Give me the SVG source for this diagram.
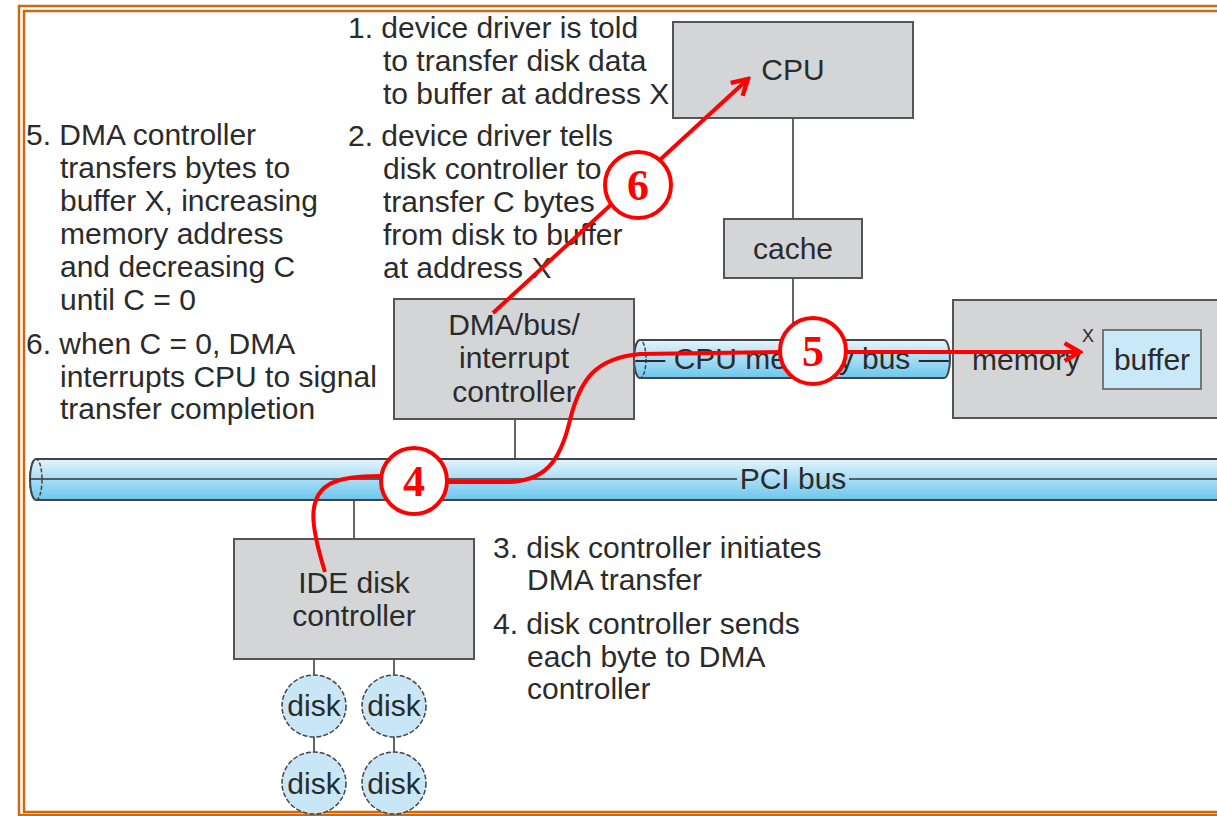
<svg xmlns="http://www.w3.org/2000/svg" width="1217" height="816" viewBox="0 0 1217 816">
<defs>
<linearGradient id="busg" x1="0" y1="0" x2="0" y2="1">
<stop offset="0" stop-color="#e4f4fc"/>
<stop offset="1" stop-color="#6cc6ee"/>
</linearGradient>
<marker id="arr" viewBox="0 0 20 20" refX="17" refY="10" markerWidth="22" markerHeight="22" markerUnits="userSpaceOnUse" orient="auto">
<path d="M3,2 L17,10 L3,18" fill="none" stroke="#ff0000" stroke-width="4" stroke-linejoin="miter"/>
</marker>
</defs>
<style>
.t{font-family:"Liberation Sans",Arial,sans-serif;font-size:30px;fill:#2b2b2b}
.c{text-anchor:middle}
.box{fill:#d4d5d7;stroke:#555;stroke-width:2}
.bus{fill:url(#busg);stroke:#444;stroke-width:2}
.ln{stroke:#333;stroke-width:1.5;fill:none}
.disk{fill:#c9e6f6;stroke:#444;stroke-width:1.5;stroke-dasharray:5 2}
.red{stroke:#ff0000;stroke-width:4;fill:none}
.circ{fill:#fff;stroke:#ff0000;stroke-width:4}
.num{font-family:"Liberation Serif","Times New Roman",serif;font-weight:bold;font-size:44px;fill:#ff0000;text-anchor:middle}
.frame{fill:none;stroke:#cc6a14;stroke-width:2.5}
</style>
<rect x="0" y="0" width="1217" height="816" fill="#fff"/>
<rect class="frame" x="19" y="6" width="1250" height="809"/>
<rect class="frame" x="24" y="11" width="1250" height="801"/>

<g id="texts" class="t">
<text x="348" y="38">1. device driver is told</text>
<text x="383" y="71">to transfer disk data</text>
<text x="383" y="104">to buffer at address X</text>
<text x="348" y="146">2. device driver tells</text>
<text x="383" y="179">disk controller to</text>
<text x="383" y="212">transfer C bytes</text>
<text x="383" y="245">from disk to buffer</text>
<text x="383" y="278">at address X</text>
<text x="26" y="145">5. DMA controller</text>
<text x="60" y="178">transfers bytes to</text>
<text x="60" y="211">buffer X, increasing</text>
<text x="60" y="244">memory address</text>
<text x="60" y="277">and decreasing C</text>
<text x="60" y="310">until C = 0</text>
<text x="26" y="354">6. when C = 0, DMA</text>
<text x="60" y="387">interrupts CPU to signal</text>
<text x="60" y="419">transfer completion</text>
<text x="493" y="558">3. disk controller initiates</text>
<text x="527" y="590">DMA transfer</text>
<text x="493" y="634">4. disk controller sends</text>
<text x="527" y="667">each byte to DMA</text>
<text x="527" y="699">controller</text>
</g>

<g id="connectors">
<line class="ln" x1="793" y1="118" x2="793" y2="219"/>
<line class="ln" x1="793" y1="278" x2="793" y2="340"/>
<line class="ln" x1="515" y1="419" x2="515" y2="479"/>
<line class="ln" x1="354" y1="479" x2="354" y2="539"/>
<line class="ln" x1="314" y1="659" x2="314" y2="675"/>
<line class="ln" x1="394" y1="659" x2="394" y2="675"/>
<line class="ln" x1="314" y1="737" x2="314" y2="752"/>
<line class="ln" x1="394" y1="737" x2="394" y2="752"/>
</g>

<g id="pci-bus">
<path class="bus" d="M36,459 L1230,459 L1230,500 L36,500 A6,20.5 0 0 1 36,459 Z"/>
<ellipse cx="36" cy="479.5" rx="6" ry="20.5" fill="none" stroke="#444" stroke-width="1.5" stroke-dasharray="4 2"/>
<line class="ln" x1="30" y1="479" x2="737" y2="479"/>
<line class="ln" x1="849" y1="479" x2="1217" y2="479"/>
<text class="t c" x="793" y="489">PCI bus</text>
</g>

<g id="cpu-memory-bus">
<path class="bus" d="M640,340 L944,340 A6,19 0 0 1 944,378 L640,378 A6,19 0 0 1 640,340 Z"/>
<ellipse cx="640" cy="359" rx="6" ry="19" fill="none" stroke="#444" stroke-width="1.5" stroke-dasharray="4 2"/>
<text class="t c" x="792" y="369">— CPU memory bus —</text>
</g>

<g id="cpu">
<rect class="box" x="673" y="22" width="240" height="96"/>
<text class="t c" x="793" y="80">CPU</text>
</g>

<g id="cache">
<rect class="box" x="724" y="219" width="138" height="59"/>
<text class="t c" x="793" y="259">cache</text>
</g>

<g id="dma">
<rect class="box" x="394" y="299" width="240" height="120"/>
<text class="t c" x="514" y="335">DMA/bus/</text>
<text class="t c" x="514" y="368">interrupt</text>
<text class="t c" x="514" y="402">controller</text>
</g>

<g id="memory">
<rect class="box" x="953" y="300" width="280" height="118"/>
<text class="t" x="972" y="370">memory</text>
<text class="t" x="1082" y="342" style="font-size:18px">X</text>
<rect x="1103" y="330" width="98" height="59" fill="#c9e8f8" stroke="#555" stroke-width="1.5"/>
<text class="t c" x="1152" y="370">buffer</text>
</g>

<g id="ide">
<rect class="box" x="234" y="539" width="240" height="120"/>
<text class="t c" x="354" y="593">IDE disk</text>
<text class="t c" x="354" y="626">controller</text>
</g>

<g id="disks">
<ellipse class="disk" cx="314" cy="706" rx="32" ry="31"/>
<text class="t c" x="314" y="716">disk</text>
<ellipse class="disk" cx="394" cy="706" rx="32" ry="31"/>
<text class="t c" x="394" y="716">disk</text>
<ellipse class="disk" cx="314" cy="783" rx="32" ry="31"/>
<text class="t c" x="314" y="794">disk</text>
<ellipse class="disk" cx="394" cy="783" rx="32" ry="31"/>
<text class="t c" x="394" y="794">disk</text>
</g>

<g id="red-arrows">
<path class="red" d="M325,572 C312,530 302,490 340,480 C355,476 370,476 384,476"/>
<path class="red" d="M445,482 L505,482 C545,482 560,462 570,420 C580,380 595,358 640,354 L785,352"/>
<line class="red" x1="843" y1="352" x2="1080" y2="352" marker-end="url(#arr)"/>
<line class="red" x1="493" y1="313" x2="748" y2="79" marker-end="url(#arr)"/>
</g>

<g id="step4">
<circle class="circ" cx="414" cy="481" r="33"/>
<text class="num" x="414" y="496">4</text>
</g>
<g id="step5">
<circle class="circ" cx="813" cy="351" r="33"/>
<text class="num" x="813" y="366">5</text>
</g>
<g id="step6">
<circle class="circ" cx="638" cy="185" r="33"/>
<text class="num" x="638" y="200">6</text>
</g>
</svg>
